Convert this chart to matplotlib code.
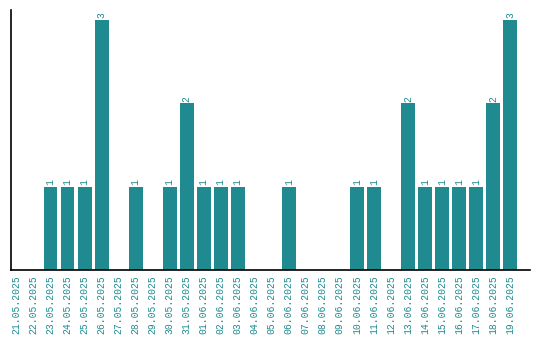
import matplotlib
matplotlib.use("Agg")
import matplotlib.pyplot as plt

dates = ["21.05.2025", "22.05.2025", "23.05.2025", "24.05.2025", "25.05.2025",
         "26.05.2025", "27.05.2025", "28.05.2025", "29.05.2025", "30.05.2025",
         "31.05.2025", "01.06.2025", "02.06.2025", "03.06.2025", "04.06.2025",
         "05.06.2025", "06.06.2025", "07.06.2025", "08.06.2025", "09.06.2025",
         "10.06.2025", "11.06.2025", "12.06.2025", "13.06.2025", "14.06.2025",
         "15.06.2025", "16.06.2025", "17.06.2025", "18.06.2025", "19.06.2025"]
counts = [0, 0, 1, 1, 1, 3, 0, 1, 0, 1, 2, 1, 1, 1, 0, 0, 1, 0, 0, 0,
          1, 1, 0, 2, 1, 1, 1, 1, 2, 3]

color = "#1f8b91"
W, H = 540, 340
fig = plt.figure(figsize=(W / 100, H / 100), dpi=100)
ax = fig.add_axes([11 / W, (H - 270) / H, (530 - 11) / W, (270 - 10) / H])

x = list(range(len(dates)))
bars = ax.bar(x, counts, width=0.82, color=color)
for xi, v in zip(x, counts):
    if v > 0:
        ax.text(xi, v + 0.02, str(v), rotation=90, ha="center", va="bottom",
                color=color, fontsize=7, family="Liberation Mono")

ax.set_xlim(-0.32, 30.17)
ax.set_ylim(0, 3.12)
ax.set_xticks(x)
ax.set_xticklabels(dates, rotation=90, color=color, fontsize=7,
                   family="Liberation Mono")
ax.tick_params(axis="x", length=0, pad=4)
ax.set_yticks([])
for s in ["top", "right"]:
    ax.spines[s].set_visible(False)
ax.spines["left"].set_linewidth(1.2)
ax.spines["bottom"].set_linewidth(1.2)

fig.savefig("out.png", dpi=100)
